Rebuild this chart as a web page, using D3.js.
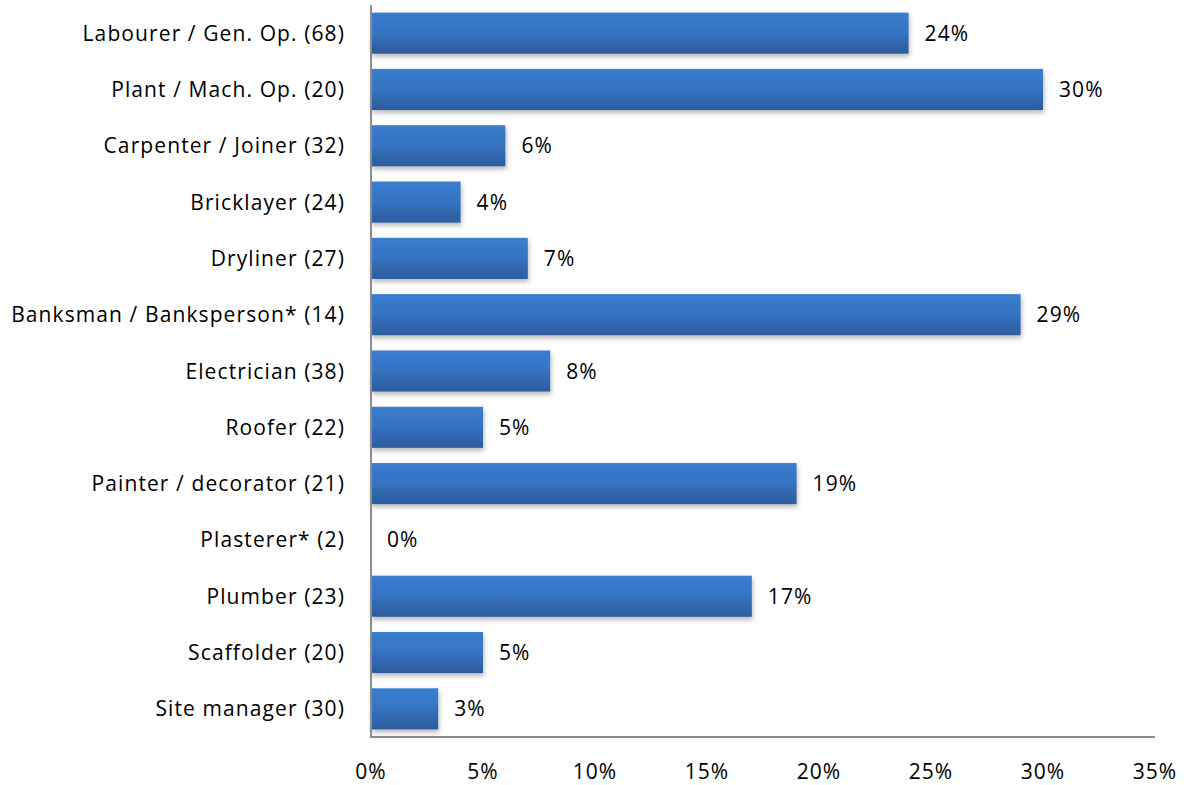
<!DOCTYPE html>
<html><head><meta charset="utf-8">
<script src="https://cdn.jsdelivr.net/npm/d3@7"></script>
<style>body{margin:0;background:#fff}svg{display:block}text{font-family:"Open Sans",sans-serif;fill:#000;letter-spacing:1.1px}</style>
</head><body><svg id="c" width="1188" height="785"></svg>
<script>
const categories = ["Labourer / Gen. Op. (68)","Plant / Mach. Op. (20)","Carpenter / Joiner (32)","Bricklayer (24)","Dryliner (27)","Banksman / Banksperson* (14)","Electrician (38)","Roofer (22)","Painter / decorator (21)","Plasterer* (2)","Plumber (23)","Scaffolder (20)","Site manager (30)"];
const values = [24,30,6,4,7,29,8,5,19,0,17,5,3];
const xTicks = [0,5,10,15,20,25,30,35];

const svg = d3.select("#c");
const m = {left:371, right:1155, top:5, bottom:737};
const x = d3.scaleLinear().domain([0,35]).range([m.left,m.right]);
const y = d3.scaleBand().domain(categories).range([m.top,m.bottom]).paddingInner(0.27).paddingOuter(0.135);
const fs = 21;

const defs = svg.append("defs");
const g = defs.append("linearGradient").attr("id","bg").attr("x1",0).attr("y1",0).attr("x2",0).attr("y2",1);
g.append("stop").attr("offset","0%").attr("stop-color","#3a7dd0");
g.append("stop").attr("offset","45%").attr("stop-color","#3674c3");
g.append("stop").attr("offset","100%").attr("stop-color","#2c5c9c");
const f = defs.append("filter").attr("id","sh").attr("x","-5%").attr("y","-20%").attr("width","115%").attr("height","160%");
f.append("feDropShadow").attr("dx",1).attr("dy",3).attr("stdDeviation",2.5).attr("flood-color","#000").attr("flood-opacity",0.28);

const data = categories.map((c,i)=>({c,v:values[i]}));
svg.append("g").selectAll("rect").data(data.filter(d=>d.v>0)).join("rect")
  .attr("x",x(0)).attr("y",d=>y(d.c)).attr("width",d=>x(d.v)-x(0)).attr("height",y.bandwidth())
  .attr("fill","url(#bg)").attr("filter","url(#sh)");

svg.append("g").selectAll("text").data(data).join("text")
  .attr("x",d=>x(d.v)+16).attr("y",d=>y(d.c)+y.bandwidth()/2).attr("dy","0.36em")
  .attr("font-size",fs).text(d=>d.v+"%");

svg.append("g").selectAll("text").data(categories).join("text")
  .attr("x",345).attr("y",d=>y(d)+y.bandwidth()/2).attr("dy","0.36em")
  .attr("text-anchor","end").attr("font-size",fs).text(d=>d);

svg.append("line").attr("x1",m.left).attr("x2",m.left).attr("y1",m.top).attr("y2",m.bottom+1).attr("stroke","#8c8c8c").attr("stroke-width",2);
svg.append("line").attr("x1",m.left-1).attr("x2",m.right).attr("y1",m.bottom).attr("y2",m.bottom).attr("stroke","#8c8c8c").attr("stroke-width",2);

svg.append("g").selectAll("text").data(xTicks).join("text")
  .attr("x",d=>x(d)).attr("y",779).attr("text-anchor","middle")
  .attr("font-size",fs).text(d=>d+"%");
</script></body></html>
